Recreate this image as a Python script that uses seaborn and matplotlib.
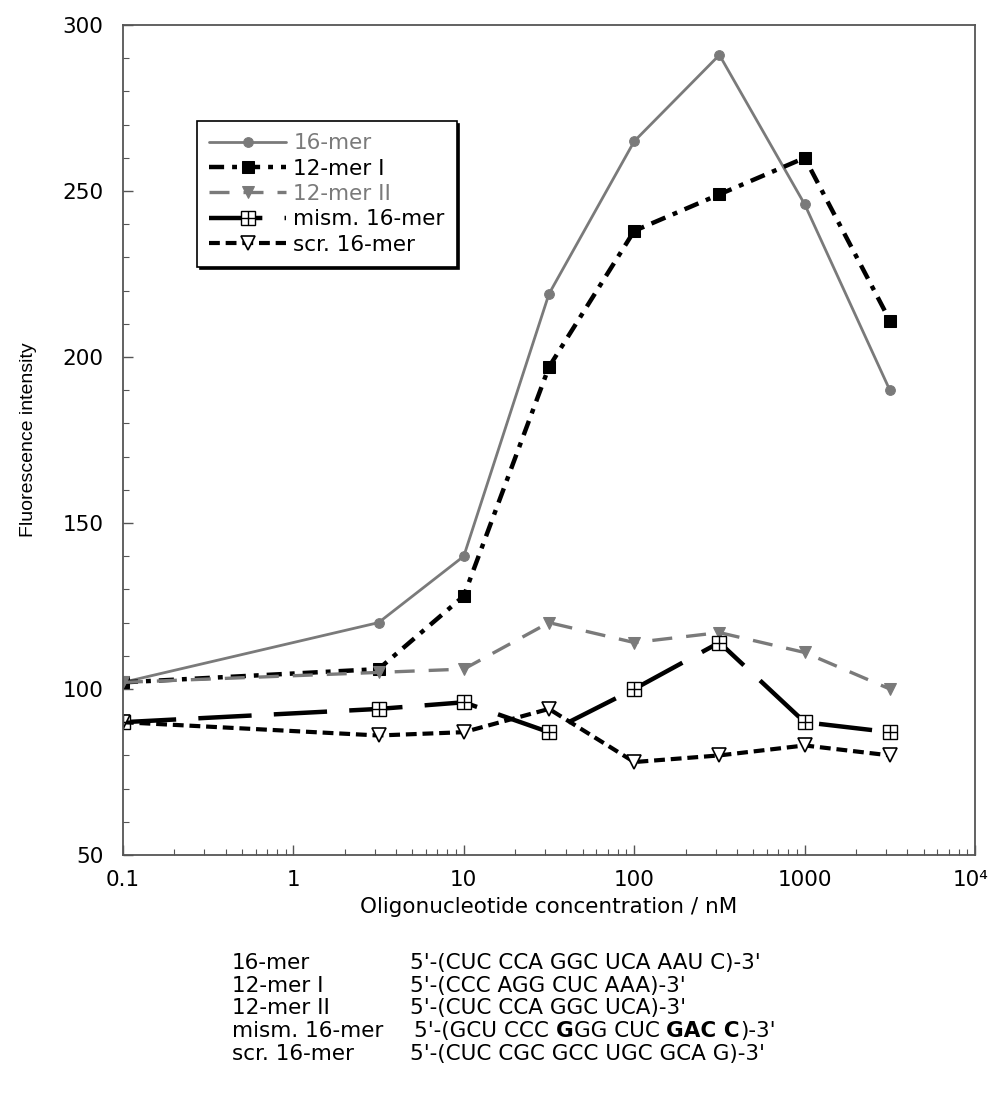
import numpy as np
import pandas as pd
import matplotlib
matplotlib.use('Agg')
import matplotlib.pyplot as plt
import matplotlib.transforms as mtransforms
import seaborn as sns
from matplotlib.ticker import LogLocator, MultipleLocator, FixedLocator, NullFormatter
from matplotlib.legend_handler import HandlerTuple

# concentrations (nM), half-decade steps
conc = [0.1, 3.16, 10, 31.6, 100, 316, 1000, 3160]

mer16 = [102, 120, 140, 219, 265, 291, 246, 190]
mer12_i = [102, 106, 128, 197, 238, 249, 260, 211]
mer12_ii = [102, 105, 106, 120, 114, 117, 111, 100]
mism16 = [90, 94, 96, 87, 100, 114, 90, 87]
scr16 = [90, 86, 87, 94, 78, 80, 83, 80]

series_names = ['16-mer', '12-mer I', '12-mer II', 'mism. 16-mer', 'scr. 16-mer']
series_values = [mer16, mer12_i, mer12_ii, mism16, scr16]

x_ticks = [0.1, 1, 10, 100, 1000, 10000]
x_ticklabels = ['0.1', '1', '10', '100', '1000', '10\u2074']
y_ticks = [50, 100, 150, 200, 250, 300]

seq_names = ['16-mer', '12-mer I', '12-mer II', 'mism. 16-mer', 'scr. 16-mer']
# each sequence as (text, bold) pieces
seq_parts = [
    [("5'-(CUC CCA GGC UCA AAU C)-3'", False)],
    [("5'-(CCC AGG CUC AAA)-3'", False)],
    [("5'-(CUC CCA GGC UCA)-3'", False)],
    [("5'-(GCU CCC ", False), ("G", True), ("GG CUC ", False), ("GAC C", True), (")-3'", False)],
    [("5'-(CUC CGC GCC UGC GCA G)-3'", False)],
]

sns.set_theme(style='ticks')
plt.rcParams['font.family'] = ['DejaVu Sans']
plt.rcParams['text.color'] = 'black'
plt.rcParams['axes.labelcolor'] = 'black'
plt.rcParams['xtick.labelcolor'] = 'black'
plt.rcParams['ytick.labelcolor'] = 'black'

FS = 15.5
gray = '#7a7a7a'
styles = {
    '16-mer': dict(color=gray, linestyle='-', linewidth=2.0, marker='o', markersize=7,
                   markerfacecolor=gray, markeredgecolor=gray),
    '12-mer I': dict(color='black', linestyle=(0, (3.4, 1.8, 1.1, 1.8)), linewidth=3.2, marker='s',
                     markersize=9, markerfacecolor='black', markeredgecolor='black'),
    '12-mer II': dict(color=gray, linestyle=(0, (6, 4.2)), linewidth=2.4, marker='v', markersize=8,
                      markerfacecolor=gray, markeredgecolor=gray),
    'mism. 16-mer': dict(color='black', linestyle=(0, (12, 5)), linewidth=3.2, marker='s',
                         markersize=10, markerfacecolor='white', markeredgecolor='black',
                         markeredgewidth=1.0),
    'scr. 16-mer': dict(color='black', linestyle=(0, (2.6, 1.4)), linewidth=3.0, marker='v',
                        markersize=10, markerfacecolor='white', markeredgecolor='black',
                        markeredgewidth=1.2),
}

df = pd.DataFrame({'conc': conc * len(series_names),
                   'value': sum(series_values, []),
                   'series': np.repeat(series_names, len(conc))})

fig = plt.figure(figsize=(9.91, 11.14), dpi=100)
ax = fig.add_axes([0.124, 0.2325, 0.86, 0.745])

handles = []
for name in series_names:
    sub = df[df['series'] == name]
    sns.lineplot(data=sub, x='conc', y='value', ax=ax, **styles[name])
    handles.append(ax.get_lines()[-1])

# plus sign inside the mismatch boxes
sub = df[df['series'] == 'mism. 16-mer']
plus = ax.plot(sub['conc'], sub['value'], linestyle='none', marker='+', markersize=10,
               markeredgewidth=1.0, color='black')[0]
handles[3] = (handles[3], plus)

ax.set_xscale('log')
ax.set_xlim(0.1, 10000)
ax.set_ylim(50, 300)
ax.xaxis.set_major_locator(FixedLocator(x_ticks))
ax.set_xticklabels(x_ticklabels)
ax.xaxis.set_minor_locator(LogLocator(base=10, subs=np.arange(2, 10), numticks=20))
ax.xaxis.set_minor_formatter(NullFormatter())
ax.set_yticks(y_ticks)
ax.yaxis.set_minor_locator(MultipleLocator(10))
ax.tick_params(axis='both', which='major', direction='in', length=7, width=1, color='#555555',
               labelsize=FS, labelcolor='black')
ax.tick_params(axis='y', which='major', pad=14)
ax.tick_params(axis='x', which='major', pad=11)
ax.tick_params(axis='both', which='minor', direction='in', length=4, width=0.8, color='#555555')
for sp in ax.spines.values():
    sp.set_visible(True)
    sp.set_color('#555555')
    sp.set_linewidth(1.3)

# nudge the 10^4 label a little left so it stays inside the figure
last = ax.get_xticklabels()[-1]
last.set_transform(last.get_transform() + mtransforms.ScaledTranslation(-5 / 100, 0, fig.dpi_scale_trans))

ax.set_xlabel('Oligonucleotide concentration / nM', fontsize=FS, labelpad=5)
ax.set_ylabel('Fluorescence intensity', fontsize=14, labelpad=18, family='Liberation Sans')

leg = ax.legend(handles, series_names, loc='upper left', bbox_to_anchor=(0.087, 0.884),
                fontsize=FS, frameon=True, fancybox=False,
                shadow={'color': 'black', 'alpha': 1.0},
                edgecolor='black', handlelength=3.6, handletextpad=0.33,
                labelspacing=0.25, borderpad=0.55, borderaxespad=0,
                handler_map={tuple: HandlerTuple(ndivide=1)})
leg.get_frame().set_linewidth(1.2)
for txt, name in zip(leg.get_texts(), series_names):
    txt.set_color(gray if name in ('16-mer', '12-mer II') else 'black')

# sequence table below the chart
row_y = [1 - 963 / 1114, 1 - 986 / 1114, 1 - 1008 / 1114, 1 - 1031 / 1114, 1 - 1054 / 1114]
for i, (nm, parts) in enumerate(zip(seq_names, seq_parts)):
    fig.text(232 / 991, row_y[i], nm, fontsize=FS, va='center', ha='left')
    x0 = 414 / 991 if i == 3 else 410 / 991
    prev = fig.text(x0, row_y[i], parts[0][0], fontsize=FS, va='center', ha='left',
                    fontweight='bold' if parts[0][1] else 'normal')
    for text, bold in parts[1:]:
        prev = ax.annotate(text, xy=(1, 0), xycoords=prev, va='bottom', ha='left',
                           fontsize=FS, fontweight='bold' if bold else 'normal')

fig.savefig('out.png', dpi=100)
